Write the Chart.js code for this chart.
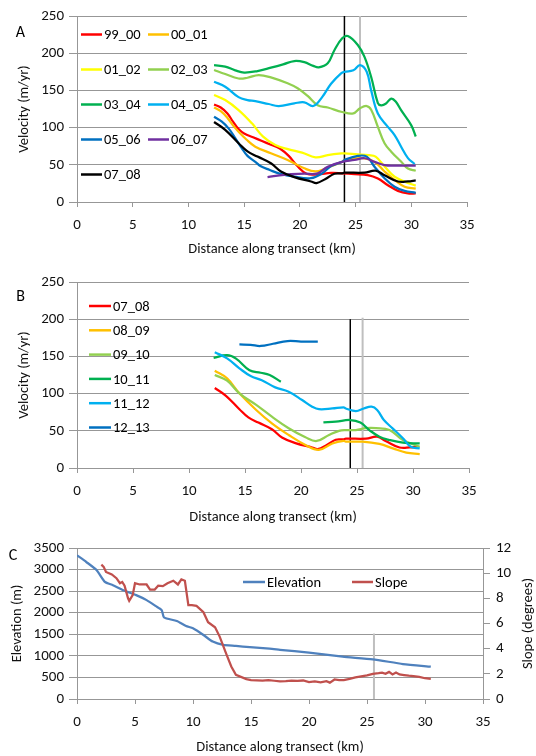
<!DOCTYPE html>
<html>
<head>
<meta charset="utf-8">
<script src="https://cdn.jsdelivr.net/npm/chart.js@4.4.0/dist/chart.umd.min.js"></script>
<style>
  body { margin: 0; background: #fff; width: 536px; height: 756px; position: relative; overflow: hidden; }
  canvas { position: absolute; left: 0; }
</style>
</head>
<body>
<canvas id="chartA" width="536" height="262" style="top:0"></canvas>
<canvas id="chartB" width="536" height="268" style="top:262px"></canvas>
<canvas id="chartC" width="536" height="226" style="top:530px"></canvas>
<script>
// ---- panel A : velocity profiles 1999-2008 ----
const namesA = ['99_00', '00_01', '01_02', '02_03', '03_04', '04_05', '05_06', '06_07', '07_08'];

const km9900 = [12.3, 12.9, 13.5, 14.0, 14.5, 15.0, 15.8, 16.6, 17.4, 18.2, 19.0, 19.8, 20.6, 21.6, 22.8, 23.8, 24.9, 26.1, 27.0, 27.9, 28.8, 29.7, 30.4];
const vel9900 = [131, 127, 119, 108, 98, 92, 87, 82, 77, 72, 62, 48, 38, 37, 39, 38.5, 37.5, 36, 31.5, 22.6, 15, 11.5, 11.5];

const km0001 = [12.3, 12.9, 13.5, 14.0, 14.5, 15.2, 16.0, 17.4, 18.9, 20.4, 21.4, 22.3, 23.8, 24.0, 25.8, 26.7, 27.6, 28.5, 29.4, 30.4];
const vel0001 = [127, 122, 113, 103, 94.5, 84, 74.4, 65.5, 56.5, 45.3, 41, 45, 54, 56.5, 58.8, 54, 41, 29.6, 20.6, 18];

const km0102 = [12.3, 13.3, 14.5, 15.7, 16.7, 17.8, 19.0, 20.2, 21.4, 22.5, 23.8, 24.0, 26.2, 26.8, 27.6, 28.5, 29.4, 30.4];
const vel0102 = [143.8, 137, 123.6, 105.7, 87.8, 76.6, 70.8, 66.4, 60, 63, 65.4, 65.4, 63, 61, 47.7, 34, 27.4, 22];

const km0203 = [12.3, 13.3, 14.5, 15.3, 16.3, 17.4, 18.9, 19.8, 20.7, 21.6, 22.5, 23.8, 24.8, 25.4, 26.0, 26.4, 27.0, 27.6, 28.2, 29.1, 29.7, 30.4];
const vel0203 = [177.4, 172, 166, 167, 170.6, 167.5, 159.5, 152.8, 142.5, 130, 127, 121, 119, 126, 129, 124, 101, 79, 67.7, 54, 45, 42];

const km0304 = [12.3, 13.3, 14.2, 15.0, 16.2, 17.4, 18.5, 19.5, 20.4, 21.2, 21.7, 22.5, 23.1, 23.8, 24.3, 25.2, 25.8, 26.4, 27.0, 27.3, 27.7, 28.2, 28.6, 29.1, 30.0, 30.4];
const vel0304 = [184, 182, 177, 174, 176, 180.5, 185, 189.5, 188, 183, 181, 186.5, 204, 220, 223, 211, 195, 168, 133, 130, 132, 139, 135, 123, 103, 88];

const km0405 = [12.3, 13.3, 14.5, 15.3, 16.0, 17.2, 18.1, 19.5, 20.4, 21.2, 22.0, 22.8, 23.7, 24.0, 24.8, 25.4, 26.0, 26.4, 27.0, 27.9, 28.5, 29.1, 29.7, 30.3];
const vel0405 = [161.7, 155, 141, 137, 135.5, 131.7, 129, 132.6, 134, 129, 141, 159, 173, 175, 177, 184, 175, 150, 119, 101, 90, 74, 59, 51];

const km0506 = [12.3, 13.0, 13.6, 14.2, 14.8, 15.3, 16.0, 16.5, 17.3, 18.1, 19.5, 21.0, 22.0, 22.8, 23.8, 24.0, 25.2, 26.0, 26.7, 27.6, 28.5, 29.4, 30.4];
const vel0506 = [114.5, 108, 99, 86, 72, 62, 54, 48, 43, 38.5, 34, 32, 38.5, 48.3, 54, 56.5, 62, 61, 47.5, 32, 20.6, 15, 12.4];

const km0607 = [17.1, 18.6, 20.4, 21.6, 22.5, 23.8, 24.9, 25.8, 26.7, 27.6, 28.5, 30.4];
const vel0607 = [33.5, 36.6, 38, 38.5, 47.5, 54, 56.5, 58.8, 54, 49.7, 49, 48.8];

const km0708 = [12.3, 13.3, 14.5, 15.3, 16.2, 17.4, 18.3, 19.5, 21.0, 21.5, 22.3, 23.1, 23.8, 24.0, 25.8, 26.8, 27.6, 28.8, 29.7, 30.4];
const vel0708 = [107.5, 97, 79, 68, 61, 52, 41, 33.5, 27.6, 25.5, 31, 38, 38.5, 39.5, 39.5, 42, 36, 27.6, 27.6, 29];

// ---- panel B : velocity profiles 2007-2013 ----
const namesB = ['07_08', '08_09', '09_10', '10_11', '11_12', '12_13'];

const km0809 = [12.3, 13.4, 14.5, 16.0, 17.4, 18.9, 20.4, 21.6, 22.8, 23.8, 24.0, 25.5, 27.0, 28.2, 29.4, 30.6];
const vel0809 = [130.8, 120.5, 100.4, 78, 60, 44.4, 31, 24.4, 33, 36.6, 35.4, 35.4, 32.3, 26.4, 20.6, 18.8];

const km0910 = [12.3, 13.4, 14.5, 16.0, 17.4, 18.9, 20.4, 21.4, 22.5, 23.4, 24.0, 24.9, 25.8, 26.7, 27.9, 29.1, 30.6];
const vel0910 = [125, 117.4, 100.4, 84.8, 69, 53.5, 41.4, 36.3, 44.4, 50, 51, 51, 53.5, 53.5, 51, 37.6, 28.5];

// 10_11 has a gap in coverage between ~18 and ~22 km
const km1011 = [12.2, 13.4, 14.2, 15.4, 16.4, 17.2, 18.2, 20.0, 22.0, 23.1, 24.4, 25.3, 26.1, 27.0, 27.9, 29.1, 30.6];
const vel1011 = [148, 151.6, 147, 131.5, 128, 125, 116, null, 61.4, 62.3, 64.5, 61, 51, 42, 37.6, 34, 33];

const km1112 = [12.3, 13.4, 14.5, 15.5, 16.5, 17.7, 18.9, 20.1, 21.0, 21.6, 22.8, 23.8, 24.0, 24.9, 25.6, 26.3, 26.8, 27.4, 28.2, 29.1, 29.8, 30.6];
const vel1112 = [155.5, 147.4, 134, 123.6, 118, 108.4, 102.6, 91.4, 82.4, 79, 80, 81.6, 80, 76.6, 80, 82.4, 78, 64.5, 53, 40, 28.5, 26.4];

const km1213 = [14.5, 15.5, 16.4, 17.5, 18.8, 20.0, 21.5];
const vel1213 = [166, 165.5, 164, 167, 170.6, 170, 169.7];

// reference positions (km): black and grey vertical markers
const markerA = [24.0, 25.4];
const markerB = [24.4, 25.5];
const markerC = [25.6];

// ---- panel C : elevation and slope ----
const kmElev = [0, 0.8, 1.7, 2.4, 3.1, 4.0, 5.1, 6.0, 6.8, 7.3, 7.5, 8.6, 9.4, 10.0, 10.9, 11.7, 12.6, 13.7, 14.9, 16.6, 17.5, 20.0, 22.9, 25.5, 28.1, 30.5];
const elevation = [3330, 3176, 2984, 2715, 2638, 2522, 2407, 2292, 2153, 2061, 1892, 1807, 1692, 1638, 1484, 1330, 1253, 1230, 1200, 1165, 1140, 1074, 981, 919, 811, 749];

const kmSlope = [2.1, 2.3, 2.5, 3.0, 3.4, 3.7, 3.9, 4.1, 4.4, 4.5, 4.8, 5.0, 5.4, 6.0, 6.3, 6.7, 7.0, 7.4, 7.8, 8.3, 8.7, 9.0, 9.3, 9.6, 9.9, 10.3, 10.9, 11.3, 11.9, 12.3, 12.9, 13.3, 13.7, 14.6,
  15.0, 15.5, 16.0, 16.5, 17.0, 17.5, 18.0, 18.5, 19.0, 19.5, 20.0, 20.5, 21.0, 21.5, 21.8, 22.2, 22.6, 23.0, 23.5, 24.0, 24.5, 25.0, 25.5, 26.0, 26.3, 26.6, 26.9, 27.2, 27.5, 27.8, 28.2, 28.6, 29.0, 29.5, 30.0, 30.5];
const slope = [10.68, 10.5, 10.1, 9.9, 9.6, 9.2, 9.3, 9.0, 8.0, 7.8, 8.25, 9.2, 9.1, 9.1, 8.7, 8.7, 9.0, 8.97, 9.2, 9.4, 9.1, 9.5, 9.4, 7.46, 7.46, 7.4, 6.9, 6.1, 5.7, 4.96, 3.5, 2.58, 1.92, 1.58,
  1.5, 1.48, 1.46, 1.5, 1.45, 1.4, 1.42, 1.46, 1.44, 1.47, 1.35, 1.4, 1.33, 1.42, 1.3, 1.55, 1.5, 1.5, 1.6, 1.72, 1.8, 1.88, 2.0, 2.05, 2.1, 2.0, 2.15, 1.95, 2.1, 1.95, 1.9, 1.85, 1.82, 1.75, 1.65, 1.6];

// ---- styling ----
const FONT = 'Carlito, Calibri, Lato, sans-serif';
const GRID = '#979797';
const colorsA = ['#FF0000', '#FFC000', '#FFFF00', '#92D050', '#00B050', '#00B0F0', '#0070C0', '#7030A0', '#000000'];
const colorsB = ['#FF0000', '#FFC000', '#92D050', '#00B050', '#00B0F0', '#0070C0'];

function pts(km, v) {
    return km.map((x, i) => ({ x: x, y: v[i] }));
}

function lineSet(label, km, v, color, i, n) {
    return {
        label: label,
        data: pts(km, v),
        borderColor: color,
        backgroundColor: color,
        borderWidth: 2.25,
        tension: 0.4,
        pointRadius: 0,
        spanGaps: false,
        order: n - i
    };
}

function markerSet(x, top, color, width, axis) {
    const ds = {
        data: [{ x: x, y: 0 }, { x: x, y: top }],
        borderColor: color,
        borderWidth: width,
        pointRadius: 0,
        tension: 0,
        order: 100
    };
    if (axis) ds.yAxisID = axis;
    return ds;
}

// draws the in-plot legend, the panel letter and (for C) the secondary axis title
const overlay = {
    id: 'overlay',
    afterDraw(chart, args, opts) {
        const ctx = chart.ctx;
        ctx.save();
        ctx.textBaseline = 'middle';
        ctx.textAlign = 'left';
        opts.items.forEach(it => {
            ctx.strokeStyle = it.color;
            ctx.lineWidth = 2.5;
            ctx.beginPath();
            ctx.moveTo(it.x, it.y);
            ctx.lineTo(it.x + it.w, it.y);
            ctx.stroke();
            ctx.fillStyle = '#000';
            ctx.font = '14.5px ' + FONT;
            ctx.fillText(it.label, it.x + it.w + 2, it.y + 1);
        });
        ctx.font = '16px ' + FONT;
        ctx.textAlign = 'center';
        ctx.fillStyle = '#000';
        ctx.fillText(opts.letter.text, opts.letter.x, opts.letter.y);
        if (opts.sideTitle) {
            const a = chart.chartArea;
            ctx.translate(opts.sideTitle.x, (a.top + a.bottom) / 2);
            ctx.rotate(-Math.PI / 2);
            ctx.font = '14.5px ' + FONT;
            ctx.fillStyle = '#111';
            ctx.fillText(opts.sideTitle.text, 0, 0);
        }
        ctx.restore();
    }
};

const tickFont = { family: FONT, size: 15 };
const titleFont = { family: FONT, size: 14.5 };

function xScale(height, titlePad) {
    return {
        type: 'linear', min: 0, max: 35,
        ticks: { stepSize: 5, padding: 9, color: '#111', font: tickFont },
        grid: { drawOnChartArea: false, tickLength: 5, color: GRID },
        border: { color: GRID },
        title: { display: true, text: 'Distance along transect (km)', color: '#111', font: titleFont, padding: { top: 0, bottom: titlePad } },
        afterFit: s => { s.height = height; }
    };
}

function yVel(width) {
    return {
        min: 0, max: 250,
        ticks: { stepSize: 50, padding: 5, color: '#111', font: tickFont },
        grid: { color: GRID, tickLength: 8 },
        border: { color: GRID },
        title: { display: true, text: 'Velocity (m/yr)', color: '#111', font: titleFont, padding: { top: 4, bottom: 0 } },
        afterFit: s => { s.width = width; }
    };
}

// ---- chart A ----
const dataA = [[km9900, vel9900], [km0001, vel0001], [km0102, vel0102], [km0203, vel0203], [km0304, vel0304],
    [km0405, vel0405], [km0506, vel0506], [km0607, vel0607], [km0708, vel0708]];
const setsA = dataA.map((d, i) => lineSet(namesA[i], d[0], d[1], colorsA[i], i, dataA.length));
setsA.push(markerSet(markerA[0], 250, '#000000', 1.5));
setsA.push(markerSet(markerA[1], 250, '#BFBFBF', 2));

const legendA = namesA.map((name, i) => ({
    label: name, color: colorsA[i],
    x: i % 2 === 0 ? 81 : 148, y: 34.5 + Math.floor(i / 2) * 35, w: 21
}));

new Chart(document.getElementById('chartA'), {
    type: 'line',
    data: { datasets: setsA },
    plugins: [overlay],
    options: {
        responsive: false,
        animation: false,
        layout: { padding: { top: 16, left: 12, right: 69, bottom: 0 } },
        plugins: {
            legend: { display: false },
            tooltip: { enabled: false },
            overlay: { items: legendA, letter: { text: 'A', x: 20.5, y: 33 } }
        },
        scales: { x: xScale(60, 4), y: yVel(65) }
    }
});

// ---- chart B ----
const dataB = [[km0708, vel0708], [km0809, vel0809], [km0910, vel0910], [km1011, vel1011], [km1112, vel1112], [km1213, vel1213]];
const setsB = dataB.map((d, i) => lineSet(namesB[i], d[0], d[1], colorsB[i], i, dataB.length));
setsB.push(markerSet(markerB[0], 200, '#000000', 1.5));
setsB.push(markerSet(markerB[1], 202, '#BFBFBF', 2));

const legendB = namesB.map((name, i) => ({
    label: name, color: colorsB[i], x: 89, y: 44 + i * 24.3, w: 22
}));

new Chart(document.getElementById('chartB'), {
    type: 'line',
    data: { datasets: setsB },
    plugins: [overlay],
    options: {
        responsive: false,
        animation: false,
        layout: { padding: { top: 20, left: 12, right: 67, bottom: 0 } },
        plugins: {
            legend: { display: false },
            tooltip: { enabled: false },
            overlay: { items: legendB, letter: { text: 'B', x: 20.5, y: 35 } }
        },
        scales: { x: xScale(62, 4), y: yVel(65) }
    }
});

// ---- chart C ----
const setsC = [
    { label: 'Elevation', data: pts(kmElev, elevation), borderColor: '#4F81BD', borderWidth: 2.25, pointRadius: 0, tension: 0.2, yAxisID: 'y', order: 2 },
    { label: 'Slope', data: pts(kmSlope, slope), borderColor: '#C0504D', borderWidth: 2.25, pointRadius: 0, tension: 0, yAxisID: 'y1', order: 1 },
    markerSet(markerC[0], 5.2, '#BFBFBF', 2, 'y1')
];

const legendC = [
    { label: 'Elevation', color: '#4F81BD', x: 243, y: 52, w: 22 },
    { label: 'Slope', color: '#C0504D', x: 352, y: 52, w: 21 }
];

new Chart(document.getElementById('chartC'), {
    type: 'line',
    data: { datasets: setsC },
    plugins: [overlay],
    options: {
        responsive: false,
        animation: false,
        layout: { padding: { top: 18, left: 4, right: 0, bottom: 0 } },
        plugins: {
            legend: { display: false },
            tooltip: { enabled: false },
            overlay: {
                items: legendC,
                letter: { text: 'C', x: 13, y: 26 },
                sideTitle: { text: 'Slope (degrees)', x: 528 }
            }
        },
        scales: {
            x: xScale(57, 0),
            y: {
                position: 'left', min: 0, max: 3500,
                ticks: { stepSize: 500, padding: 5, color: '#111', font: tickFont, callback: v => String(v) },
                grid: { color: GRID, tickLength: 8 },
                border: { color: GRID },
                title: { display: true, text: 'Elevation (m)', color: '#111', font: titleFont, padding: { top: 5, bottom: 0 } },
                afterFit: s => { s.width = 73; }
            },
            y1: {
                position: 'right', min: 0, max: 12,
                ticks: { stepSize: 2, padding: 6, color: '#111', font: tickFont },
                grid: { drawOnChartArea: false, color: GRID, tickLength: 7 },
                border: { color: GRID },
                afterFit: s => { s.width = 53; }
            }
        }
    }
});
</script>
</body>
</html>
